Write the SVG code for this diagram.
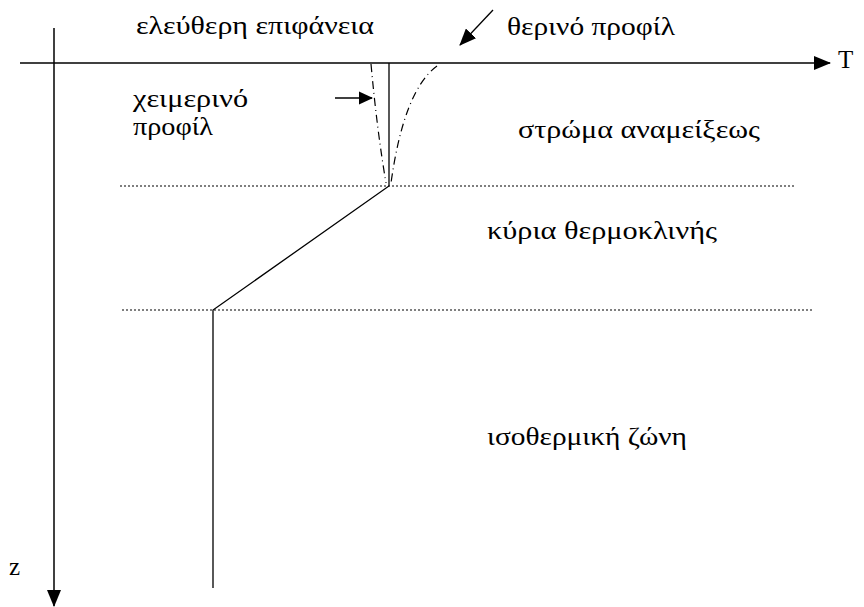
<svg xmlns="http://www.w3.org/2000/svg" width="864" height="607" viewBox="0 0 864 607">
<defs>
<marker id="ah" markerWidth="14" markerHeight="14" refX="13" refY="7" orient="auto" markerUnits="userSpaceOnUse">
<path d="M0,0.5 L14,7 L0,13.5 Z" fill="#000"/>
</marker>
<marker id="ahL" markerWidth="17" markerHeight="14" refX="16" refY="7" orient="auto" markerUnits="userSpaceOnUse">
<path d="M0,0 L17,7 L0,14 Z" fill="#000"/>
</marker>
<style>
.t{font-family:"Liberation Serif","Times New Roman",serif;font-size:25px;fill:#000}
.ax{stroke:#000;stroke-width:1.5;fill:none}
.ln{stroke:#000;stroke-width:1.3;fill:none}
.dot{stroke:#000;stroke-width:1.2;stroke-dasharray:2,2;fill:none}
.dd{stroke:#000;stroke-width:1.2;stroke-dasharray:8,4,1,4;fill:none}
</style>
</defs>
<rect width="864" height="607" fill="#fff"/>
<g id="axes">
<line class="ax" x1="20" y1="63" x2="830" y2="63" marker-end="url(#ahL)"/>
<line class="ax" x1="54" y1="28" x2="54" y2="606" marker-end="url(#ahL)"/>
</g>
<g id="levels">
<line class="dot" x1="120" y1="186" x2="795" y2="186"/>
<line class="dot" x1="122" y1="310" x2="812" y2="310"/>
</g>
<g id="connectors">
<polyline class="ln" points="389,63 389,186 213,310 213,588"/>
<path class="dd" d="M371,64 Q377,130 386,183"/>
<path class="dd" d="M437,66 Q404,90 391,183"/>
<line class="ln" x1="335" y1="98" x2="372" y2="98" marker-end="url(#ah)"/>
<line class="ln" x1="493" y1="10" x2="460" y2="45" marker-end="url(#ahL)"/>
</g>
<g id="labels">
<text class="t" x="136" y="34" textLength="238" lengthAdjust="spacingAndGlyphs">ελεύθερη  επιφάνεια</text>
<text class="t" x="507" y="35" textLength="168" lengthAdjust="spacingAndGlyphs">θερινό προφίλ</text>
<text class="t" x="133" y="107" textLength="115" lengthAdjust="spacingAndGlyphs">χειμερινό</text>
<text class="t" x="133" y="135" textLength="80" lengthAdjust="spacingAndGlyphs">προφίλ</text>
<text class="t" x="518" y="138" textLength="242" lengthAdjust="spacingAndGlyphs">στρώμα  αναμείξεως</text>
<text class="t" x="487" y="239" textLength="230" lengthAdjust="spacingAndGlyphs">κύρια  θερμοκλινής</text>
<text class="t" x="487" y="445" textLength="200" lengthAdjust="spacingAndGlyphs">ισοθερμική ζώνη</text>
<text class="t" x="838" y="68">T</text>
<text class="t" x="9" y="575">z</text>
</g>
</svg>
